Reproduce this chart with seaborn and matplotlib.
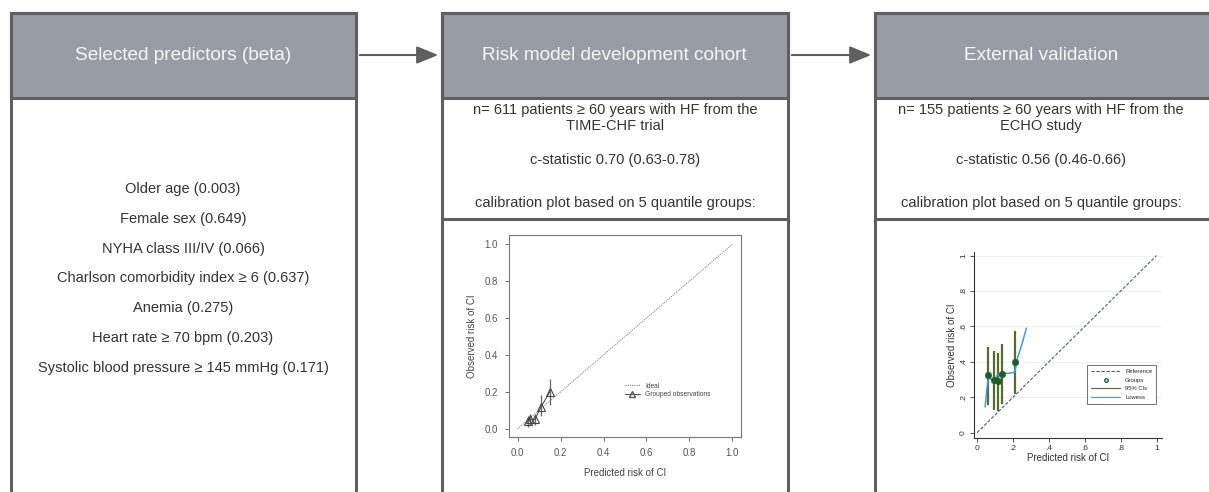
#!/usr/bin/env python3
# -*- coding: utf-8 -*-
"""
流程图：预测因子 -> 模型开发队列 -> 外部验证（含两张校准图）
"""

import matplotlib
matplotlib.use("Agg")
import matplotlib.pyplot as plt
import seaborn as sns
import pandas as pd
from matplotlib.patches import Rectangle, FancyArrowPatch
from matplotlib.lines import Line2D

# 文本内容
HEADERS = ["Selected predictors (beta)", "Risk model development cohort", "External validation"]
PREDICTORS = [
    "Older age (0.003)",
    "Female sex (0.649)",
    "NYHA class III/IV (0.066)",
    "Charlson comorbidity index \u2265 6 (0.637)",
    "Anemia (0.275)",
    "Heart rate \u2265 70 bpm (0.203)",
    "Systolic blood pressure \u2265 145 mmHg (0.171)",
]
DEV_TEXT = ["n= 611 patients \u2265 60 years with HF from the\nTIME-CHF trial",
            "c-statistic 0.70 (0.63-0.78)",
            "calibration plot based on 5 quantile groups:"]
VAL_TEXT = ["n= 155 patients \u2265 60 years with HF from the\nECHO study",
            "c-statistic 0.56 (0.46-0.66)",
            "calibration plot based on 5 quantile groups:"]

# 开发队列校准数据（5个分位组）
dev_pred = [0.05, 0.06, 0.08, 0.11, 0.15]
dev_obs = [0.04, 0.05, 0.05, 0.12, 0.20]
dev_lo = [0.01, 0.02, 0.02, 0.07, 0.13]
dev_hi = [0.07, 0.08, 0.08, 0.18, 0.27]

# 外部验证校准数据
val_pred = [0.062, 0.093, 0.115, 0.140, 0.209]
val_obs = [0.323, 0.300, 0.290, 0.333, 0.398]
val_lo = [0.155, 0.127, 0.123, 0.160, 0.220]
val_hi = [0.486, 0.463, 0.450, 0.500, 0.575]
lowess_x = [0.045, 0.055, 0.065, 0.08, 0.10, 0.115, 0.13, 0.15, 0.175, 0.20, 0.21, 0.225, 0.25, 0.275]
lowess_y = [0.145, 0.25, 0.31, 0.30, 0.30, 0.33, 0.32, 0.335, 0.335, 0.34, 0.34, 0.42, 0.50, 0.59]

ticks = [0, 0.2, 0.4, 0.6, 0.8, 1.0]
dev_ticklabels = ["0.0", "0.2", "0.4", "0.6", "0.8", "1.0"]
val_ticklabels = ["0", ".2", ".4", ".6", ".8", "1"]

# 样式
sns.set_style("white")
plt.rcParams['font.family'] = ['Liberation Sans', 'DejaVu Sans']

W, H = 1209, 492
BORDER = "#5f5f5f"
HEADER_FILL = "#979ca5"
TEXT = "#333333"

fig = plt.figure(figsize=(W / 100, H / 100), dpi=100)

# 背景画布（像素坐标）
bg = fig.add_axes([0, 0, 1, 1])
bg.set_xlim(0, W)
bg.set_ylim(H, 0)
bg.axis("off")

boxes = [(10.5, 355.5), (442, 787.5), (875, 1220)]
for i, (x0, x1) in enumerate(boxes):
    bg.add_patch(Rectangle((x0, 13), x1 - x0, 510, facecolor="white", edgecolor=BORDER, lw=2.2, zorder=1))
    bg.add_patch(Rectangle((x0, 13), x1 - x0, 85, facecolor=HEADER_FILL, edgecolor=BORDER, lw=2.2, zorder=2))
    cx = (x0 + x1) / 2 if i < 2 else 1041
    bg.text(cx, 55, HEADERS[i], color="#f7f7f7", fontsize=13.7, ha="center", va="center", zorder=3)

# 箭头
for xa, xb in [(357, 441), (789, 874)]:
    bg.add_patch(FancyArrowPatch((xa, 55), (xb, 55), arrowstyle="-|>,head_length=1.1,head_width=0.45",
                                 mutation_scale=12, color=BORDER, lw=1.5, zorder=3))

# 预测因子列表
for k, label in enumerate(PREDICTORS):
    bg.text(183, 189 + k * 29.8, label, color=TEXT, fontsize=10.5, ha="center", va="center")

# 队列说明文字
for cx, lines in [(615, DEV_TEXT), (1041, VAL_TEXT)]:
    bg.text(cx, 118, lines[0], color=TEXT, fontsize=10.5, ha="center", va="center", linespacing=1.15)
    bg.text(cx, 160, lines[1], color=TEXT, fontsize=10.5, ha="center", va="center")
    bg.text(cx, 203, lines[2], color=TEXT, fontsize=10.5, ha="center", va="center")
for x0, x1 in boxes[1:]:
    bg.plot([x0, x1], [219, 219], color=BORDER, lw=2.2, zorder=2)

# ---------- 开发队列校准图（R风格）----------
ax1 = fig.add_axes([509 / W, 1 - 437 / H, 232 / W, 202 / H])
grey = "#555555"
dev_df = pd.DataFrame({"pred": dev_pred, "obs": dev_obs})
ideal_df = pd.DataFrame({"pred": [0, 1], "obs": [0, 1]})
sns.lineplot(data=ideal_df, x="pred", y="obs", ax=ax1, color="#888888", lw=0.8, linestyle=(0, (1, 1)))
ax1.vlines(dev_pred, dev_lo, dev_hi, color="#666666", lw=0.9)
sns.lineplot(data=dev_df, x="pred", y="obs", ax=ax1, color="#555555", lw=0.8, marker="^",
             markersize=5.5, markerfacecolor="none", markeredgecolor="#444444", markeredgewidth=0.8)
ax1.set_xlim(-0.04, 1.04)
ax1.set_ylim(-0.045, 1.05)
ax1.set_xticks(ticks)
ax1.set_xticklabels(dev_ticklabels)
ax1.set_yticks(ticks)
ax1.set_yticklabels(dev_ticklabels)
ax1.tick_params(labelsize=7, colors=grey, length=3, width=0.6, direction="out", left=True, bottom=True, pad=5)
for s in ax1.spines.values():
    s.set_color("#777777")
    s.set_linewidth(0.8)
ax1.set_xlabel("Predicted risk of CI", fontsize=7, color="#444444", labelpad=7)
ax1.set_ylabel("Observed risk of CI", fontsize=7, color="#444444", labelpad=5)
h1 = [Line2D([], [], color="#888888", lw=0.8, linestyle=(0, (1, 1))),
      Line2D([], [], color="#555555", lw=0.8, marker="^", markersize=4, markerfacecolor="none")]
ax1.legend(h1, ["Ideal", "Grouped observations"], loc="lower left", bbox_to_anchor=(0.48, 0.17),
           frameon=False, fontsize=4.8, handlelength=2.2, labelspacing=0.2, borderpad=0.2,
           labelcolor="#444444")

# ---------- 外部验证校准图（Stata风格）----------
ax2 = fig.add_axes([974 / W, 1 - 438 / H, 188 / W, 186 / H])
ref_df = pd.DataFrame({"pred": [0, 1], "obs": [0, 1]})
val_df = pd.DataFrame({"pred": val_pred, "obs": val_obs})
low_df = pd.DataFrame({"pred": lowess_x, "obs": lowess_y})
for t in ticks:
    ax2.axhline(t, color="#eef2f4", lw=0.8, zorder=0)
sns.lineplot(data=ref_df, x="pred", y="obs", ax=ax2, color="#4a5f7a", lw=0.8, linestyle=(0, (3, 1.5)))
ax2.vlines(val_pred, val_lo, val_hi, color="#566b2c", lw=1.6, zorder=2)
sns.lineplot(data=low_df, x="pred", y="obs", ax=ax2, color="#459bd8", lw=1.1, sort=False, zorder=3)
sns.scatterplot(data=val_df, x="pred", y="obs", ax=ax2, color="#1b5e2e", s=22, edgecolor="#1b5e2e", zorder=4)
ax2.set_xlim(-0.017, 1.03)
ax2.set_ylim(-0.03, 1.02)
ax2.set_xticks(ticks)
ax2.set_xticklabels(val_ticklabels)
ax2.set_yticks(ticks)
ax2.set_yticklabels(val_ticklabels, rotation=90, va="center")
ax2.tick_params(labelsize=6, colors="#333333", length=3, width=0.6, direction="out", left=True, bottom=True, pad=2)
sns.despine(ax=ax2)
for s in ["left", "bottom"]:
    ax2.spines[s].set_color("#333333")
    ax2.spines[s].set_linewidth(0.8)
ax2.set_xlabel("Predicted risk of CI", fontsize=7, color="#333333", labelpad=1)
ax2.set_ylabel("Observed risk of CI", fontsize=7, color="#333333", labelpad=2)
h2 = [Line2D([], [], color="#4a5f7a", lw=0.8, linestyle=(0, (3, 1.5))),
      Line2D([], [], color="none", marker="o", markersize=2.5, markerfacecolor="none", markeredgecolor="#1b5e2e"),
      Line2D([], [], color="#566b2c", lw=0.8),
      Line2D([], [], color="#459bd8", lw=0.8)]
leg = ax2.legend(h2, ["Reference", "Groups", "95% CIs", "Lowess"], loc="lower right",
                 bbox_to_anchor=(0.985, 0.165), fontsize=4.2, frameon=True, fancybox=False,
                 handlelength=5, labelspacing=0.65, borderpad=0.7)
leg.get_frame().set_edgecolor("#333333")
leg.get_frame().set_linewidth(0.6)

plt.savefig("out.png", dpi=100)
plt.close()
